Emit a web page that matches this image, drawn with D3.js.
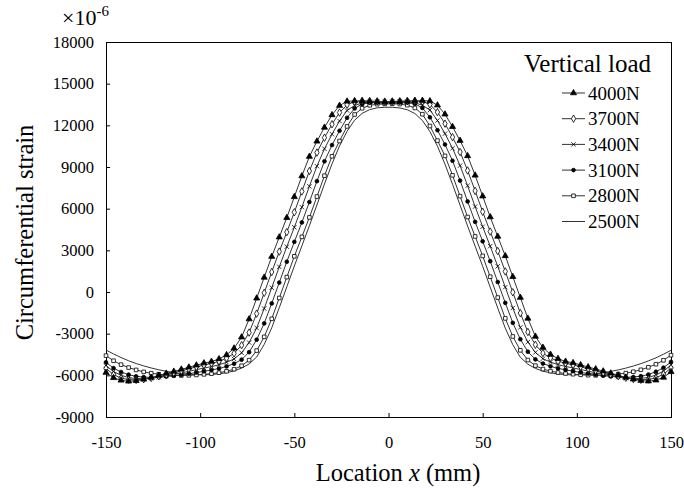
<!DOCTYPE html>
<html>
<head>
<meta charset="utf-8">
<script src="https://cdn.jsdelivr.net/npm/d3@7"></script>
<style>
  body { margin: 0; background: #fff; }
  text { font-family: "Liberation Serif", "Times New Roman", serif; fill: #000; }
</style>
</head>
<body>
<div id="chart"></div>
<script>
// measuring positions (mm)
const locationMM = [-150,-146,-142,-138,-134,-130,-126,-122,-118,-114,-110,-106,-102,-98,-94,-90,-86,-82,-78,-74,-70,-66,-62,-58,-54,-50,-46,-42,-38,-34,-30,-26,-22,-18,-14,-10,-6,-2,
  2,6,10,14,18,22,26,30,34,38,42,46,50,54,58,62,66,70,74,78,82,86,90,94,98,102,106,110,114,118,122,126,130,134,138,142,146,150];

// circumferential strain (x10^-6), one array per vertical load
const load4000 = [-5800,-6180,-6360,-6430,-6390,-6290,-6160,-6010,-5860,-5720,-5570,-5420,-5270,-5120,-5010,-4820,-4530,-4050,-3250,-1950,-450,1050,2550,3950,5350,6850,8350,9750,10850,11850,12750,13420,13730,13760,13740,13720,13690,13680,
  13700,13700,13720,13750,13780,13750,13450,12800,11900,10900,9800,8400,6900,5400,4000,2600,1100,-400,-1900,-3200,-4000,-4500,-4800,-5000,-5100,-5250,-5400,-5550,-5700,-5850,-6000,-6150,-6280,-6380,-6420,-6350,-6150,-5750];
const load3700 = [-5500,-5950,-6200,-6310,-6330,-6280,-6190,-6070,-5940,-5810,-5670,-5530,-5390,-5260,-5130,-4990,-4760,-4420,-3830,-2920,-1560,-60,1440,2910,4310,5740,7240,8710,10040,11110,12080,12920,13480,13710,13760,13750,13730,13710,
  13720,13740,13760,13770,13720,13500,12950,12120,11150,10080,8750,7280,5780,4350,2950,1480,-20,-1520,-2880,-3800,-4400,-4750,-4980,-5120,-5250,-5380,-5520,-5660,-5800,-5930,-6060,-6180,-6270,-6320,-6300,-6180,-5920,-5470];
const load3400 = [-5300,-5730,-6000,-6160,-6230,-6240,-6210,-6140,-6050,-5940,-5830,-5710,-5590,-5480,-5370,-5240,-5060,-4820,-4380,-3640,-2590,-1190,310,1810,3260,4660,6110,7610,9060,10310,11360,12310,13070,13430,13610,13690,13710,13690,
  13700,13720,13700,13620,13450,13100,12350,11400,10350,9100,7650,6150,4700,3300,1850,350,-1150,-2550,-3600,-4350,-4800,-5050,-5230,-5360,-5470,-5580,-5700,-5820,-5930,-6040,-6130,-6200,-6230,-6220,-6150,-5980,-5700,-5260];
const load3100 = [-5060,-5480,-5760,-5950,-6070,-6130,-6150,-6130,-6090,-6030,-5960,-5880,-5800,-5710,-5620,-5510,-5360,-5160,-4870,-4330,-3430,-2260,-820,680,2180,3610,5010,6480,7980,9410,10580,11610,12540,13220,13530,13630,13650,13640,
  13650,13660,13640,13550,13250,12580,11650,10620,9450,8020,6520,5050,3650,2220,720,-780,-2220,-3400,-4300,-4850,-5150,-5350,-5500,-5610,-5700,-5790,-5870,-5950,-6020,-6080,-6120,-6140,-6120,-6060,-5940,-5740,-5450,-5030];
const load2800 = [-4580,-4950,-5230,-5440,-5610,-5750,-5850,-5920,-5970,-6000,-6010,-6000,-5970,-5930,-5880,-5810,-5710,-5560,-5310,-4910,-4220,-3230,-1930,-430,1070,2570,3970,5370,6870,8370,9770,10870,11920,12780,13230,13440,13520,13540,
  13550,13530,13450,13250,12800,11950,10900,9800,8400,6900,5400,4000,2600,1100,-400,-1900,-3200,-4200,-4900,-5300,-5550,-5700,-5800,-5870,-5920,-5960,-5990,-6000,-5990,-5960,-5910,-5840,-5740,-5600,-5420,-5200,-4920,-4550];
const load2500 = [-4180,-4460,-4720,-4950,-5150,-5320,-5470,-5600,-5710,-5800,-5870,-5920,-5950,-5960,-5940,-5890,-5810,-5680,-5480,-5180,-4680,-3780,-2580,-1130,370,1870,3320,4770,6270,7770,9220,10520,11570,12370,12860,13130,13260,13300,
  13300,13250,13120,12850,12350,11550,10500,9200,7750,6250,4750,3300,1850,350,-1150,-2600,-3800,-4700,-5200,-5500,-5700,-5820,-5900,-5950,-5970,-5960,-5930,-5880,-5810,-5720,-5610,-5480,-5330,-5160,-4960,-4740,-4480,-4200];

const seriesNames = ["4000N", "3700N", "3400N", "3100N", "2800N", "2500N"];
const seriesValues = [load4000, load3700, load3400, load3100, load2800, load2500];
const markerKinds = ["triangle", "diamond", "times", "dot", "square", "none"];

const yTickValues = [-9000, -6000, -3000, 0, 3000, 6000, 9000, 12000, 15000, 18000];
const xTickValues = [-150, -100, -50, 0, 50, 100, 150];

const width = 684, height = 488;
const plot = { left: 106, right: 671, top: 42, bottom: 417 };

const svg = d3.select("#chart").append("svg")
  .attr("width", width)
  .attr("height", height);

const xScale = d3.scaleLinear().domain([-150, 150]).range([plot.left, plot.right]);
const yScale = d3.scaleLinear().domain([-9000, 18000]).range([plot.bottom, plot.top]);

// ticks point into the plot, like the original
const yAxis = d3.axisLeft(yScale)
  .tickValues(yTickValues)
  .tickSize(-4)
  .tickPadding(12)
  .tickFormat(d => String(d));
const xAxis = d3.axisBottom(xScale)
  .tickValues(xTickValues)
  .tickSize(-4)
  .tickPadding(19)
  .tickFormat(d => String(d));

const gy = svg.append("g")
  .attr("transform", "translate(" + plot.left + ",0)")
  .call(yAxis);
const gx = svg.append("g")
  .attr("transform", "translate(0," + plot.bottom + ")")
  .call(xAxis);
[gx, gy].forEach(g => {
  g.select(".domain").remove();
  g.selectAll("line").attr("stroke", "#000");
  g.selectAll("text").attr("font-size", 16.5).attr("font-family", "Liberation Serif, serif");
});

// frame
svg.append("rect")
  .attr("x", plot.left + 0.5)
  .attr("y", plot.top + 0.5)
  .attr("width", plot.right - plot.left)
  .attr("height", plot.bottom - plot.top)
  .attr("fill", "none")
  .attr("stroke", "#000")
  .attr("stroke-width", 1);

const line = d3.line()
  .x((d, i) => xScale(locationMM[i]))
  .y(d => yScale(d));

const symbolFor = {
  triangle: d3.symbol().type(d3.symbolTriangle).size(16),
  diamond: d3.symbol().type(d3.symbolDiamond).size(16),
  times: d3.symbol().type(d3.symbolTimes).size(14),
  dot: d3.symbol().type(d3.symbolCircle).size(11),
  square: d3.symbol().type(d3.symbolSquare).size(13)
};
const filled = { triangle: true, dot: true, diamond: false, square: false, times: false };

function drawMarker(g, kind, cx, cy) {
  if (kind === "none") return;
  const p = g.append("path")
    .attr("d", symbolFor[kind]())
    .attr("transform", "translate(" + cx + "," + cy + ")")
    .attr("stroke", "#000")
    .attr("stroke-width", 0.8);
  if (kind === "times") p.attr("fill", "none");
  else p.attr("fill", filled[kind] ? "#000" : "#fff");
}

// draw from the last series so 4000N sits on top
const plotGroup = svg.append("g");
for (let s = seriesValues.length - 1; s >= 0; s--) {
  const g = plotGroup.append("g");
  g.append("path")
    .attr("d", line(seriesValues[s]))
    .attr("fill", "none")
    .attr("stroke", "#333")
    .attr("stroke-width", 1);
  seriesValues[s].forEach((v, i) => drawMarker(g, markerKinds[s], xScale(locationMM[i]), yScale(v)));
}

// legend
const legend = svg.append("g");
legend.append("text")
  .attr("x", 524)
  .attr("y", 72)
  .attr("font-size", 25)
  .text("Vertical load");
seriesNames.forEach((name, i) => {
  const yy = 93 + i * 25.7;
  legend.append("line")
    .attr("x1", 562).attr("x2", 585)
    .attr("y1", yy).attr("y2", yy)
    .attr("stroke", "#333");
  drawMarker(legend, markerKinds[i], 573.5, yy);
  legend.append("text")
    .attr("x", 588)
    .attr("y", yy)
    .attr("dy", "0.35em")
    .attr("font-size", 19)
    .text(name);
});

// unit
const unit = svg.append("text")
  .attr("x", 62)
  .attr("y", 25)
  .attr("font-size", 22);
unit.append("tspan").text("×10");
unit.append("tspan").attr("dy", -9).attr("font-size", 15).text("-6");

// axis titles
const xTitle = svg.append("text")
  .attr("x", 398)
  .attr("y", 481)
  .attr("text-anchor", "middle")
  .attr("font-size", 24.5);
xTitle.append("tspan").text("Location ");
xTitle.append("tspan").attr("font-style", "italic").text("x");
xTitle.append("tspan").text(" (mm)");

svg.append("text")
  .attr("transform", "translate(33," + ((plot.top + plot.bottom) / 2 + 3) + ") rotate(-90)")
  .attr("text-anchor", "middle")
  .attr("font-size", 24.5)
  .text("Circumferential strain");
</script>
</body>
</html>
